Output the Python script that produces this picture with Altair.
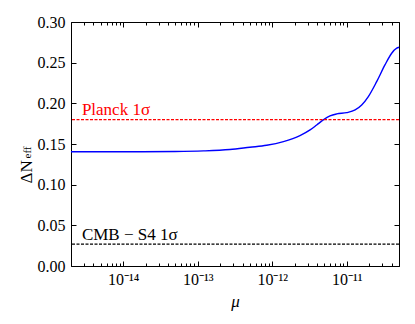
import altair as alt
import pandas as pd

# ---- data ----
mu = [2.0e-15, 1.0e-14, 5.0e-14, 1.2e-13, 2.7e-13, 5.0e-13, 8.4e-13, 1.41e-12,
      2.35e-12, 3.21e-12, 3.94e-12, 4.83e-12, 5.94e-12, 7.31e-12, 9.95e-12,
      1.29e-11, 1.58e-11, 1.94e-11, 2.51e-11, 3.24e-11, 3.99e-11, 4.66e-11, 5.0e-11]
dneff = [0.1405, 0.1405, 0.1408, 0.1415, 0.1432, 0.1460, 0.1484, 0.1529,
         0.1603, 0.1673, 0.1734, 0.1796, 0.1845, 0.1870, 0.1886,
         0.1919, 0.1980, 0.2083, 0.2267, 0.2472, 0.2616, 0.2678, 0.2690]

limit_names = ["Planck 1σ", "CMB − S4 1σ"]
limit_values = [0.18, 0.027]
limit_colors = ["#ff0000", "#000000"]
label_mu = [2.8e-15, 2.8e-15]
label_y = [0.1857, 0.032]

x_major = [1e-14, 1e-13, 1e-12, 1e-11]
x_major_labels = ["10⁻¹⁴", "10⁻¹³", "10⁻¹²", "10⁻¹¹"]
x_minor = [m * 10.0 ** e for e in range(-15, -10) for m in range(2, 10)
           if 2e-15 <= m * 10.0 ** e <= 5e-11]
y_major = [0.0, 0.05, 0.10, 0.15, 0.20, 0.25, 0.30]

XDOM = [2e-15, 5e-11]
YDOM = [0.0, 0.30]
FONT = "Liberation Serif"

curve = pd.DataFrame({"mu": mu, "dneff": dneff})
limits = pd.DataFrame({"name": limit_names, "value": limit_values, "color": limit_colors})
labels_df = pd.DataFrame({"name": limit_names, "mu": label_mu, "y": label_y, "color": limit_colors})

xs = alt.Scale(type="log", domain=XDOM, nice=False)
ys = alt.Scale(domain=YDOM, nice=False, zero=False)

# label expression for x ticks
expr = "'" + x_major_labels[-1] + "'"
for v, lab in reversed(list(zip(x_major[:-1], x_major_labels[:-1]))):
    expr = f"datum.value < {v * 3} ? '{lab}' : " + expr


def tick_axis(orient, values, size, **kw):
    base = dict(orient=orient, values=values, tickSize=size, offset=-size,
                domain=False, grid=False, tickColor="black", tickWidth=1,
                labels=False, title=None)
    base.update(kw)
    return alt.Axis(**base)


x_bottom = tick_axis("bottom", x_major, 5, labels=True, labelExpr=expr,
                     labelFont=FONT, labelFontSize=16, labelColor="black",
                     labelPadding=5, title="μ", titleFont=FONT, titleFontSize=17,
                     titleFontStyle="italic", titleFontWeight="normal",
                     titleColor="black", titlePadding=6)
y_left = tick_axis("left", y_major, 5, labels=True, format=".2f",
                   labelFont=FONT, labelFontSize=16, labelColor="black",
                   labelPadding=6, title="ΔN", titleFont=FONT, titleFontSize=17,
                   titleFontWeight="normal", titleColor="black", titleAngle=-90,
                   titleAlign="left", titleBaseline="alphabetic",
                   titleX=-45, titleY=161)

line = alt.Chart(curve).mark_line(color="#0000ff", strokeWidth=1.4, interpolate="monotone").encode(
    x=alt.X("mu:Q", scale=xs, axis=x_bottom),
    y=alt.Y("dneff:Q", scale=ys, axis=y_left),
)

ghost1 = alt.Chart(curve).mark_point(opacity=0).encode(
    x=alt.X("mu:Q", scale=xs, axis=tick_axis("top", x_major, 5)),
    y=alt.Y("dneff:Q", scale=ys, axis=tick_axis("right", y_major, 5)),
)

ghost2 = alt.Chart(curve).mark_point(opacity=0).encode(
    x=alt.X("mu:Q", scale=xs, axis=tick_axis("bottom", x_minor, 3)),
    y=alt.Y("dneff:Q", scale=ys, axis=alt.Axis(
        orient="left", ticks=False, labels=False, domain=False, grid=False,
        title="eff", titleFont=FONT, titleFontSize=11, titleFontStyle="normal",
        titleFontWeight="normal", titleColor="black", titleAngle=-90,
        titleAlign="left", titleBaseline="alphabetic", titleX=-41, titleY=136)),
)

ghost3 = alt.Chart(curve).mark_point(opacity=0).encode(
    x=alt.X("mu:Q", scale=xs, axis=tick_axis("top", x_minor, 3)),
    y=alt.Y("dneff:Q", scale=ys, axis=None),
)

rules = alt.Chart(limits).mark_rule(strokeWidth=1.2, strokeDash=[3, 1.5]).encode(
    y=alt.Y("value:Q", scale=ys, axis=None),
    color=alt.Color("color:N", scale=None, legend=None),
)

texts = alt.Chart(labels_df).mark_text(align="left", baseline="alphabetic",
                                       font=FONT, fontSize=17).encode(
    x=alt.X("mu:Q", scale=xs, axis=None),
    y=alt.Y("y:Q", scale=ys, axis=None),
    text="name:N",
    color=alt.Color("color:N", scale=None, legend=None),
)

chart = alt.layer(line, ghost1, ghost2, ghost3, rules, texts).resolve_axis(
    x="independent", y="independent"
).properties(
    width=328, height=244,
    autosize=alt.AutoSizeParams(type="none"),
    padding={"left": 63, "top": 14, "right": 8, "bottom": 50},
    background="white",
).configure_view(stroke="black", strokeWidth=1)

chart.save("out.html", embed_options={"renderer": "svg", "actions": False})
